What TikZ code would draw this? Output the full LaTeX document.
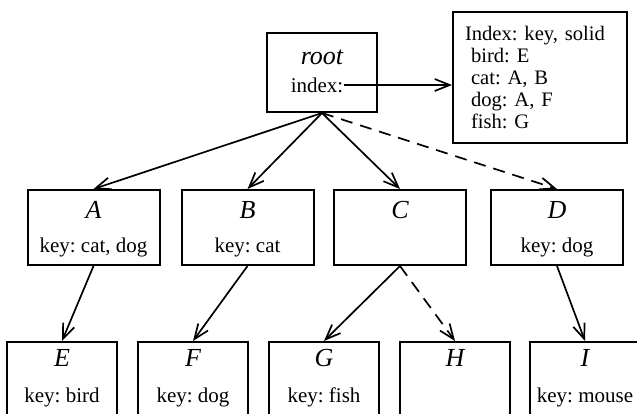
\documentclass[tikz,border=0pt]{standalone}
\usepackage{fontspec}
\setmainfont{Liberation Serif}
\usepackage{tikz}
\usetikzlibrary{arrows.meta}
\frenchspacing

\tikzset{
  box/.style={draw, line width=1pt, minimum width=66pt, minimum height=37.5pt, inner sep=0pt},
  leaf/.style={box, minimum width=55pt, minimum height=50pt, anchor=north},
  lab/.style={inner sep=0pt, font=\fontsize{13}{15}\selectfont\itshape},
  keytxt/.style={inner sep=0pt, font=\fontsize{10.5}{12}\selectfont},
  arr/.style={-{Straight Barb[length=7.5pt,width=6pt]}, line width=0.85pt},
  darr/.style={arr, dash pattern=on 6pt off 4pt}
}

\begin{document}
\begin{tikzpicture}[x=0.5pt, y=-0.5pt]
                \clip (0,0) rectangle (637,413);
                % root and its index
                \node[box, minimum width=55pt, minimum height=39.5pt] (root) at (322,72.5) {};
                \node[lab] at (322,57) {root};
                \node[keytxt] (ixlab) at (317,85) {index:};
                \node[draw, line width=1pt, minimum width=87pt, minimum height=65.5pt,
                      text width=75pt, inner xsep=6pt, align=left,
                      font=\fontsize{10.3}{11}\selectfont] (idx) at (540,77.5)
                      {Index: key, solid\\
                       \hspace*{3pt}bird: E\\
                       \hspace*{3pt}cat: A, B\\
                       \hspace*{3pt}dog: A, F\\
                       \hspace*{3pt}fish: G};
                \draw[arr] (ixlab.east) -- (ixlab.east -| idx.west);
                % second row
                \foreach \n/\x/\k in {A/93.5/{key: cat, dog}, B/247.5/{key: cat}, C/400/{}, D/557/{key: dog}} {
                    \node[box] (\n) at (\x,227.5) {};
                    \node[lab] at (\x,210) {\n};
                    \node[keytxt] at (\x,247) {\k};
                }
                % third row
                \foreach \n/\x/\k in {E/62/{key: bird}, F/193/{key: dog}, G/324/{key: fish}, H/455/{}, I/585/{key: mouse}} {
                    \node[leaf] (\n) at (\x,341) {};
                    \node[lab] at (\x,358) {\n};
                    \node[keytxt] at (\x,397) {\k};
                }
                \foreach \a/\b in {root/A, root/B, root/C, A/E, B/F, C/G, D/I} {
                    \draw[arr] (\a.south) -- (\b.north);
                }
                \draw[darr] (root.south) -- (D.north);
                \draw[darr] (C.south) -- (H.north);
            \end{tikzpicture}
\end{document}
